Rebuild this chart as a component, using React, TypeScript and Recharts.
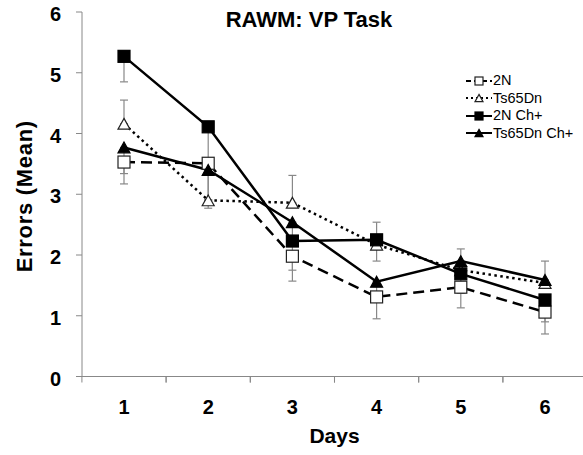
import { LineChart, Line, XAxis, YAxis, ErrorBar, Legend, Label } from 'recharts';

const FONT = '"Liberation Sans", Arial, sans-serif';

const days = ['1', '2', '3', '4', '5', '6'];
const yTicks = [0, 1, 2, 3, 4, 5, 6];

// means
const n2 = [3.53, 3.51, 1.98, 1.31, 1.47, 1.06];
const ts65 = [4.16, 2.9, 2.86, 2.17, 1.75, 1.54];
const n2ch = [5.27, 4.11, 2.23, 2.25, 1.69, 1.26];
const ts65ch = [3.77, 3.4, 2.54, 1.56, 1.9, 1.59];

// error bars as [below, above]; only one side is drawn in the original
const n2Err = [[0.36, 0], [0.6, 0], [0.41, 0], [0.36, 0], [0.34, 0], [0.36, 0]];
const ts65Err = [[0, 0.39], [0.13, 0], [0, 0.45], [0, 0.37], [0, 0], [0, 0]];
const n2chErr = [[0.42, 0], [0.6, 0], [0.48, 0], [0.35, 0], [0.32, 0], [0.36, 0]];
const ts65chErr = [[0.43, 0], [0.5, 0], [0.3, 0], [0.25, 0], [0, 0.2], [0, 0.31]];

const data = days.map((day, i) => ({
  day,
  n2: n2[i],
  n2Err: n2Err[i],
  ts65: ts65[i],
  ts65Err: ts65Err[i],
  n2ch: n2ch[i],
  n2chErr: n2chErr[i],
  ts65ch: ts65ch[i],
  ts65chErr: ts65chErr[i],
}));

type Shape = 'square' | 'triangle';

const series = [
  { key: 'n2', name: '2N', shape: 'square' as Shape, filled: false, dash: '11 6', legendDash: '5 3' },
  { key: 'ts65', name: 'Ts65Dn', shape: 'triangle' as Shape, filled: false, dash: '2.5 3.5', legendDash: '2 3' },
  { key: 'n2ch', name: '2N Ch+', shape: 'square' as Shape, filled: true, dash: undefined, legendDash: undefined },
  { key: 'ts65ch', name: 'Ts65Dn Ch+', shape: 'triangle' as Shape, filled: true, dash: undefined, legendDash: undefined },
];

function Marker({ cx, cy, shape, filled, size }: { cx: number; cy: number; shape: Shape; filled: boolean; size: number }) {
  const fill = filled ? '#000' : '#fff';
  const stroke = filled ? '#000' : '#222';
  if (shape === 'square') {
    return <rect x={cx - size / 2} y={cy - size / 2} width={size} height={size} fill={fill} stroke={stroke} strokeWidth={1.2} />;
  }
  const h = size * 0.9;
  return (
    <polygon
      points={`${cx},${cy - h / 2} ${cx + size / 2},${cy + h / 2} ${cx - size / 2},${cy + h / 2}`}
      fill={fill}
      stroke={stroke}
      strokeWidth={1.2}
    />
  );
}

function DayTick(props: any) {
  const { x, y, payload, width, visibleTicksCount } = props;
  const half = width / visibleTicksCount / 2;
  const axisY = y - 6;
  return (
    <g>
      <line x1={x - half} x2={x - half} y1={axisY} y2={axisY + 6} stroke="#888" />
      <line x1={x + half} x2={x + half} y1={axisY} y2={axisY + 6} stroke="#888" />
      <text x={x} y={axisY + 37.5} textAnchor="middle" fontSize={20} fontWeight="bold" fontFamily={FONT} fill="#000">
        {payload.value}
      </text>
    </g>
  );
}

function LegendBox() {
  return (
    <div style={{ fontFamily: FONT, fontSize: 14.5, color: '#000' }}>
      {series.map((s) => (
        <div key={s.key} style={{ display: 'flex', alignItems: 'center', height: 17.5 }}>
          <svg width={26} height={12} style={{ display: 'block' }}>
            <line x1={0} x2={26} y1={6} y2={6} stroke="#000" strokeWidth={2} strokeDasharray={s.legendDash} />
            <Marker cx={13} cy={6} shape={s.shape} filled={s.filled} size={8} />
          </svg>
          <span style={{ marginLeft: 1, lineHeight: '17px', whiteSpace: 'nowrap' }}>{s.name}</span>
        </div>
      ))}
    </div>
  );
}

export default function App() {
  return (
    <div style={{ position: 'absolute', left: 0, top: 0, width: 583, height: 455, overflow: 'hidden', background: '#fff' }}>
      <div
        style={{
          position: 'absolute',
          left: 209,
          top: 9,
          width: 200,
          textAlign: 'center',
          fontFamily: FONT,
          fontWeight: 'bold',
          fontSize: 22,
          lineHeight: '22px',
          zIndex: 2,
        }}
      >
        RAWM: VP Task
      </div>
      <LineChart width={590} height={455} data={data} margin={{ top: 12, right: 3, bottom: 0, left: 0 }}>
        <XAxis
          dataKey="day"
          height={78.5}
          padding={{ left: 42, right: 42 }}
          stroke="#888"
          tickLine={false}
          tickSize={6}
          tickMargin={0}
          tick={<DayTick />}
          interval={0}
        >
          <Label value="Days" position="insideBottom" offset={12} fontSize={21} fontWeight="bold" fontFamily={FONT} fill="#000" />
        </XAxis>
        <YAxis
          width={82}
          domain={[0, 6]}
          ticks={yTicks}
          stroke="#888"
          tickSize={6}
          tickMargin={15}
          tick={{ fontSize: 20, fontWeight: 'bold', fill: '#000', fontFamily: FONT, dy: 2 }}
        >
          <Label
            value="Errors (Mean)"
            angle={-90}
            position="center"
            dx={-17}
            dy={2}
            fontSize={22}
            letterSpacing={0.7}
            fontWeight="bold"
            fontFamily={FONT}
            fill="#000"
          />
        </YAxis>
        <Legend
          layout="vertical"
          align="center"
          verticalAlign="middle"
          content={<LegendBox />}
          wrapperStyle={{ left: 466, top: 72, width: 117 }}
        />
        {series.map((s) => (
          <Line
            key={s.key}
            dataKey={s.key}
            name={s.name}
            type="linear"
            stroke="#000"
            strokeWidth={2.5}
            strokeDasharray={s.dash}
            isAnimationActive={false}
            activeDot={false}
            dot={(p: any) => <Marker key={`${s.key}-${p.index}`} cx={p.cx} cy={p.cy} shape={s.shape} filled={s.filled} size={12} />}
          >
            <ErrorBar dataKey={`${s.key}Err`} width={4} stroke="#888" strokeWidth={1.2} direction="y" isAnimationActive={false} />
          </Line>
        ))}
      </LineChart>
    </div>
  );
}
